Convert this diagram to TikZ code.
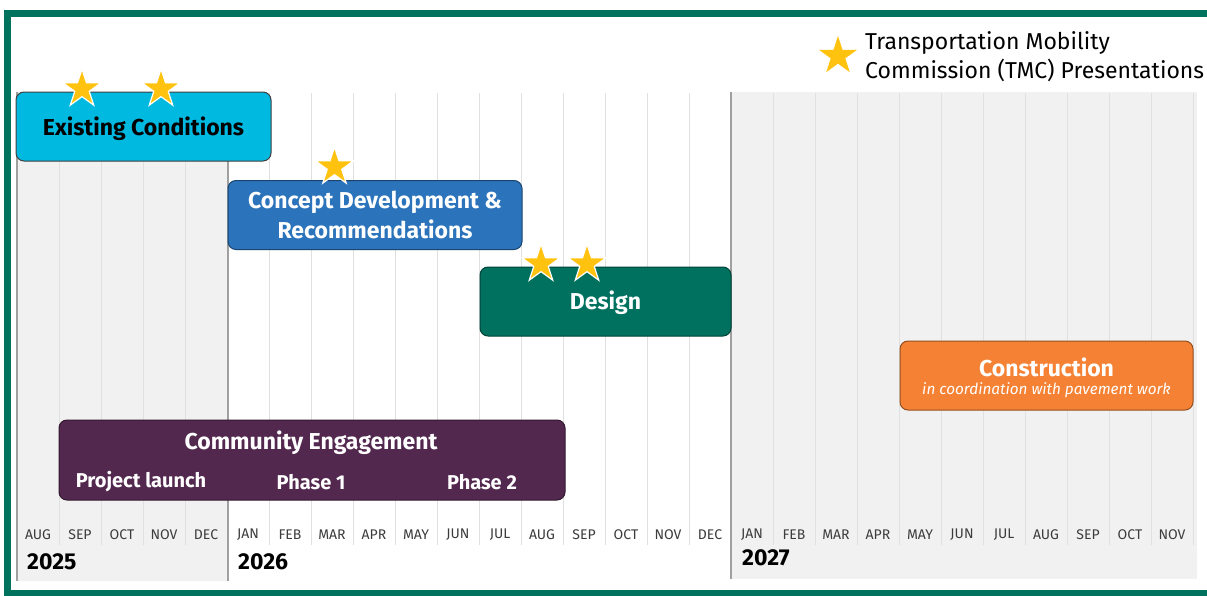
\documentclass[tikz,border=0pt]{standalone}
\usepackage{fontspec}
\setmainfont{Fira Sans}
\usetikzlibrary{shapes.geometric}
\definecolor{framec}{RGB}{0,114,94}
\definecolor{cyanc}{RGB}{0,185,225}
\definecolor{bluec}{RGB}{43,115,186}
\definecolor{tealc}{RGB}{0,112,95}
\definecolor{orangec}{RGB}{245,130,52}
\definecolor{purplec}{RGB}{83,40,79}
\definecolor{starc}{RGB}{255,194,14}
\definecolor{greybg}{RGB}{241,241,241}
\definecolor{gridc}{RGB}{224,224,224}
\definecolor{thickc}{RGB}{160,160,160}
\definecolor{monthc}{RGB}{60,60,60}
\tikzset{
  phase/.style={rounded corners=8pt, line width=1pt, inner sep=0pt, align=center},
  star5/.style={star, star points=5, star point ratio=2.618, minimum size=40pt, inner sep=0pt, fill=starc, draw=white, line width=1.2pt},
  month/.style={font=\fontsize{14}{14}\selectfont, text=monthc, inner sep=0pt},
  year/.style={font=\fontsize{23}{23}\selectfont\bfseries, anchor=west, inner sep=0pt},
  ttl/.style={font=\fontsize{23}{30}\selectfont\bfseries},
  sub/.style={font=\fontsize{20}{20}\selectfont\bfseries, text=white, inner sep=0pt},
}
\begin{document}
\begin{tikzpicture}[x=1pt,y=-1pt]
\useasboundingbox (0,0) rectangle (1207,595);
\clip (0,0) rectangle (1207,595);
\fill[white] (0,0) rectangle (1207,595);
% backgrounds
\fill[greybg] (17,92) rectangle (228,581);
\fill[greybg] (731,92) rectangle (1197,579);
% month lines
\foreach \i in {1,...,27} {
  \draw[gridc, line width=1pt] ({17+42*\i},93) -- ({17+42*\i},545);
}
\draw[gridc, line width=1pt] (1193,93) -- (1193,545);
% thick dividers
\draw[thickc, line width=2.5pt] (17,92) -- (17,581);
\draw[thickc, line width=2.5pt] (228,92) -- (228,581);
\draw[thickc, line width=2.5pt] (731,92) -- (731,579);
% month labels
\foreach \m [count=\i from 0] in {AUG,SEP,OCT,NOV,DEC,JAN,FEB,MAR,APR,MAY,JUN,JUL,AUG,SEP,OCT,NOV,DEC,JAN,FEB,MAR,APR,MAY,JUN,JUL,AUG,SEP,OCT,NOV} {
  \node[month] (m\i) at ({38+42*\i},535) {\m};
}
\node[year] (y2025) at (27,562) {2025};
\node[year] (y2026) at (238,562) {2026};
\node[year] (y2027) at (742,558) {2027};
% frame
\draw[framec, line width=7pt] (7.5,13.5) rectangle (1240,593.5);
% phase boxes
\node[phase, fill=cyanc, draw=black!75, minimum width=255pt, minimum height=69pt] (exist) at (143.5,126.5) {};
\node[ttl, text=black, inner sep=0pt] (existt) at (143.5,129) {Existing Conditions};
\node[phase, fill=bluec, draw=bluec!60!black, minimum width=294pt, minimum height=69pt, ttl, text=white] (concept) at (375,215) {Concept Development \&\\Recommendations};
\node[phase, fill=tealc, draw=tealc!60!black, minimum width=251pt, minimum height=69pt] (design) at (605.5,301.5) {};
\node[ttl, text=white, inner sep=0pt] (designt) at (605.5,303) {Design};
\node[phase, fill=orangec, draw=orangec!60!black, minimum width=293pt, minimum height=69pt] (constr) at (1046.5,375.5) {};
\node[ttl, text=white, inner sep=0pt] (constrt) at (1046.5,367) {Construction};
\node[font=\fontsize{15.3}{15.3}\selectfont\itshape, text=white, inner sep=0pt] (constrs) at (1046.5,390.5) {in coordination with pavement work};
\node[phase, fill=purplec, draw=purplec!60!black, minimum width=506pt, minimum height=80pt] (comm) at (312,460) {};
\node[ttl, text=white, inner sep=0pt] (commt) at (311,443) {Community Engagement};
\node[sub] (launch) at (141,482) {Project launch};
\node[sub] (ph1) at (311,482) {Phase 1};
\node[sub] (ph2) at (482,482) {Phase 2};
% stars
\node[star5] (s1) at (82,89) {};
\node[star5] (s2) at (161,89) {};
\node[star5] (s3) at (334.5,167) {};
\node[star5] (s4) at (541,264) {};
\node[star5] (s5) at (587,264) {};
% legend
\node[star5, draw=none] (ls) at (838,56) {};
\node[font=\fontsize{23}{29.5}\selectfont, align=left, anchor=west, inner sep=0pt] (legend) at (865,56.5) {Transportation Mobility\\Commission (TMC) Presentations};
\end{tikzpicture}
\end{document}
